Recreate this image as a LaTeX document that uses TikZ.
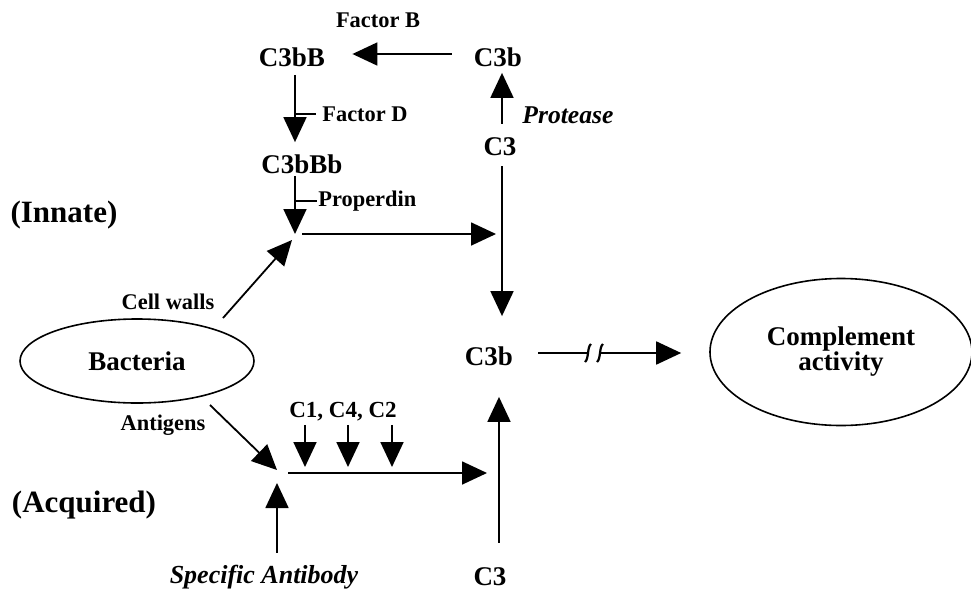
\documentclass[tikz,border=0pt]{standalone}
\usepackage{fontspec}
\setmainfont{Liberation Serif}
\usetikzlibrary{arrows.meta,shapes.geometric,calc}
\begin{document}
\begin{tikzpicture}[x=0.5pt,y=-0.5pt,
  lbl/.style={inner sep=0pt, font=\bfseries\fontsize{13.5}{15}\selectfont},
  sm/.style={inner sep=0pt, font=\bfseries\fontsize{11.2}{13}\selectfont},
  side/.style={inner sep=0pt, font=\bfseries\fontsize{15.5}{17}\selectfont},
  ital/.style={inner sep=0pt, font=\bfseries\itshape\fontsize{13}{15}\selectfont},
  arr/.style={line width=0.9pt, -{Triangle[length=12.5pt,width=11.5pt]}},
  ln/.style={line width=0.9pt},
  oval/.style={draw, ellipse, line width=0.8pt, inner sep=0pt}]
\useasboundingbox (0,0) rectangle (971,590);

% nodes
\node[sm] (fB) at (378,20) {Factor B};
\node[lbl] (c3bB) at (292,57) {C3bB};
\node[lbl] (c3bt) at (498,57) {C3b};
\node[sm, anchor=west] (fD) at (322,114) {Factor D};
\node[ital, font=\bfseries\itshape\fontsize{12.8}{15}\selectfont, anchor=west] (prot) at (522,115) {Protease};
\node[lbl] (c3t) at (500,147) {C3};
\node[lbl] (c3bBb) at (302,164) {C3bBb};
\node[sm, anchor=west] (prop) at (318,201) {Properdin};
\node[side] (innate) at (64,215) {(Innate)};
\node[sm] (cw) at (168,302) {Cell walls};
\node[oval, minimum width=117pt, minimum height=42pt, font=\bfseries\fontsize{13.5}{15}\selectfont] (bact) at (137,361) {Bacteria};
\node[lbl] (c3bm) at (489,356) {C3b};
\node[oval, minimum width=131pt, minimum height=73.5pt, align=center, font=\bfseries\fontsize{13.5}{12.5}\selectfont] (comp) at (841,352) {Complement\\activity};
\node[sm] (antig) at (163,425) {Antigens};
\node[sm, font=\bfseries\fontsize{11.5}{13}\selectfont] (c1) at (343,412) {C1, C4, C2};
\node[side] (acq) at (84,505) {(Acquired)};
\node[ital] (sab) at (264,577) {Specific Antibody};
\node[lbl] (c3bot) at (490,577) {C3};

% helper coordinates
\coordinate (ax) at (295,0);
\coordinate (vx) at (502,0);
\coordinate (vx2) at (499,0);
\coordinate (j1) at (295,234);
\coordinate (j2) at (277,473);
\coordinate (cws) at (223,318);
\coordinate (ags) at (210,405);
\coordinate (br1) at (588,353);
\coordinate (br2) at (600,353);

% top loop
\draw[arr, shorten <=11pt, shorten >=13.5pt] ([yshift=1.5pt]c3bt.west) -- ([yshift=1.5pt]c3bB.east);
\draw[arr, shorten <=4pt, shorten >=6pt] (c3bB.south -| ax) -- (c3bBb.north -| ax);
\draw[ln] (fD.west -| ax) -- ([xshift=-3pt]fD.west);
\draw[arr, shorten <=1pt] (c3bBb.south -| ax) -- (j1);
\draw[ln] (prop.west -| ax) -- ([xshift=-0.5pt]prop.west);
\draw[arr] (cws) -- ($(j1)+(-3,6)$);
\draw[arr, shorten >=3pt] ([xshift=3.5pt]j1) -- (j1 -| vx);
\draw[arr, shorten <=7pt, shorten >=3pt] (c3t.north -| vx) -- (c3bt.south -| vx);
\draw[arr, shorten <=5pt, shorten >=15pt] (c3t.south -| vx) -- (c3bm.north -| vx);

% bottom
\draw[arr, shorten <=12.5pt, shorten >=15.5pt] (c3bot.north -| vx2) -- (c3bm.south -| vx2);
\draw[arr] (ags) -- ($(j2)+(0,-3)$);
\draw[arr, shorten <=6pt, shorten >=5pt] (sab.north -| j2) -- (j2);
\draw[arr, shorten >=6pt] ([xshift=5.5pt]j2) -- (j2 -| vx2);
\foreach \x in {305,348,392}
  \draw[arr, shorten <=1.5pt, shorten >=3pt] (c1.south -| \x,0) -- (j2 -| \x,0);

% to complement activity, with break
\draw[ln, shorten <=12.5pt] (c3bm.east |- br1) -- (br1);
\draw[line width=1.1pt] ($(br1)+(-3,9)$) .. controls ($(br1)+(1,6)$) and ($(br1)+(-1,-6)$) .. ($(br1)+(3,-9)$);
\draw[line width=1.1pt] ($(br2)+(-3,9)$) .. controls ($(br2)+(1,6)$) and ($(br2)+(-1,-6)$) .. ($(br2)+(3,-9)$);
\draw[arr, shorten >=14pt] (br2) -- (comp.west |- br2);
\end{tikzpicture}
\end{document}
